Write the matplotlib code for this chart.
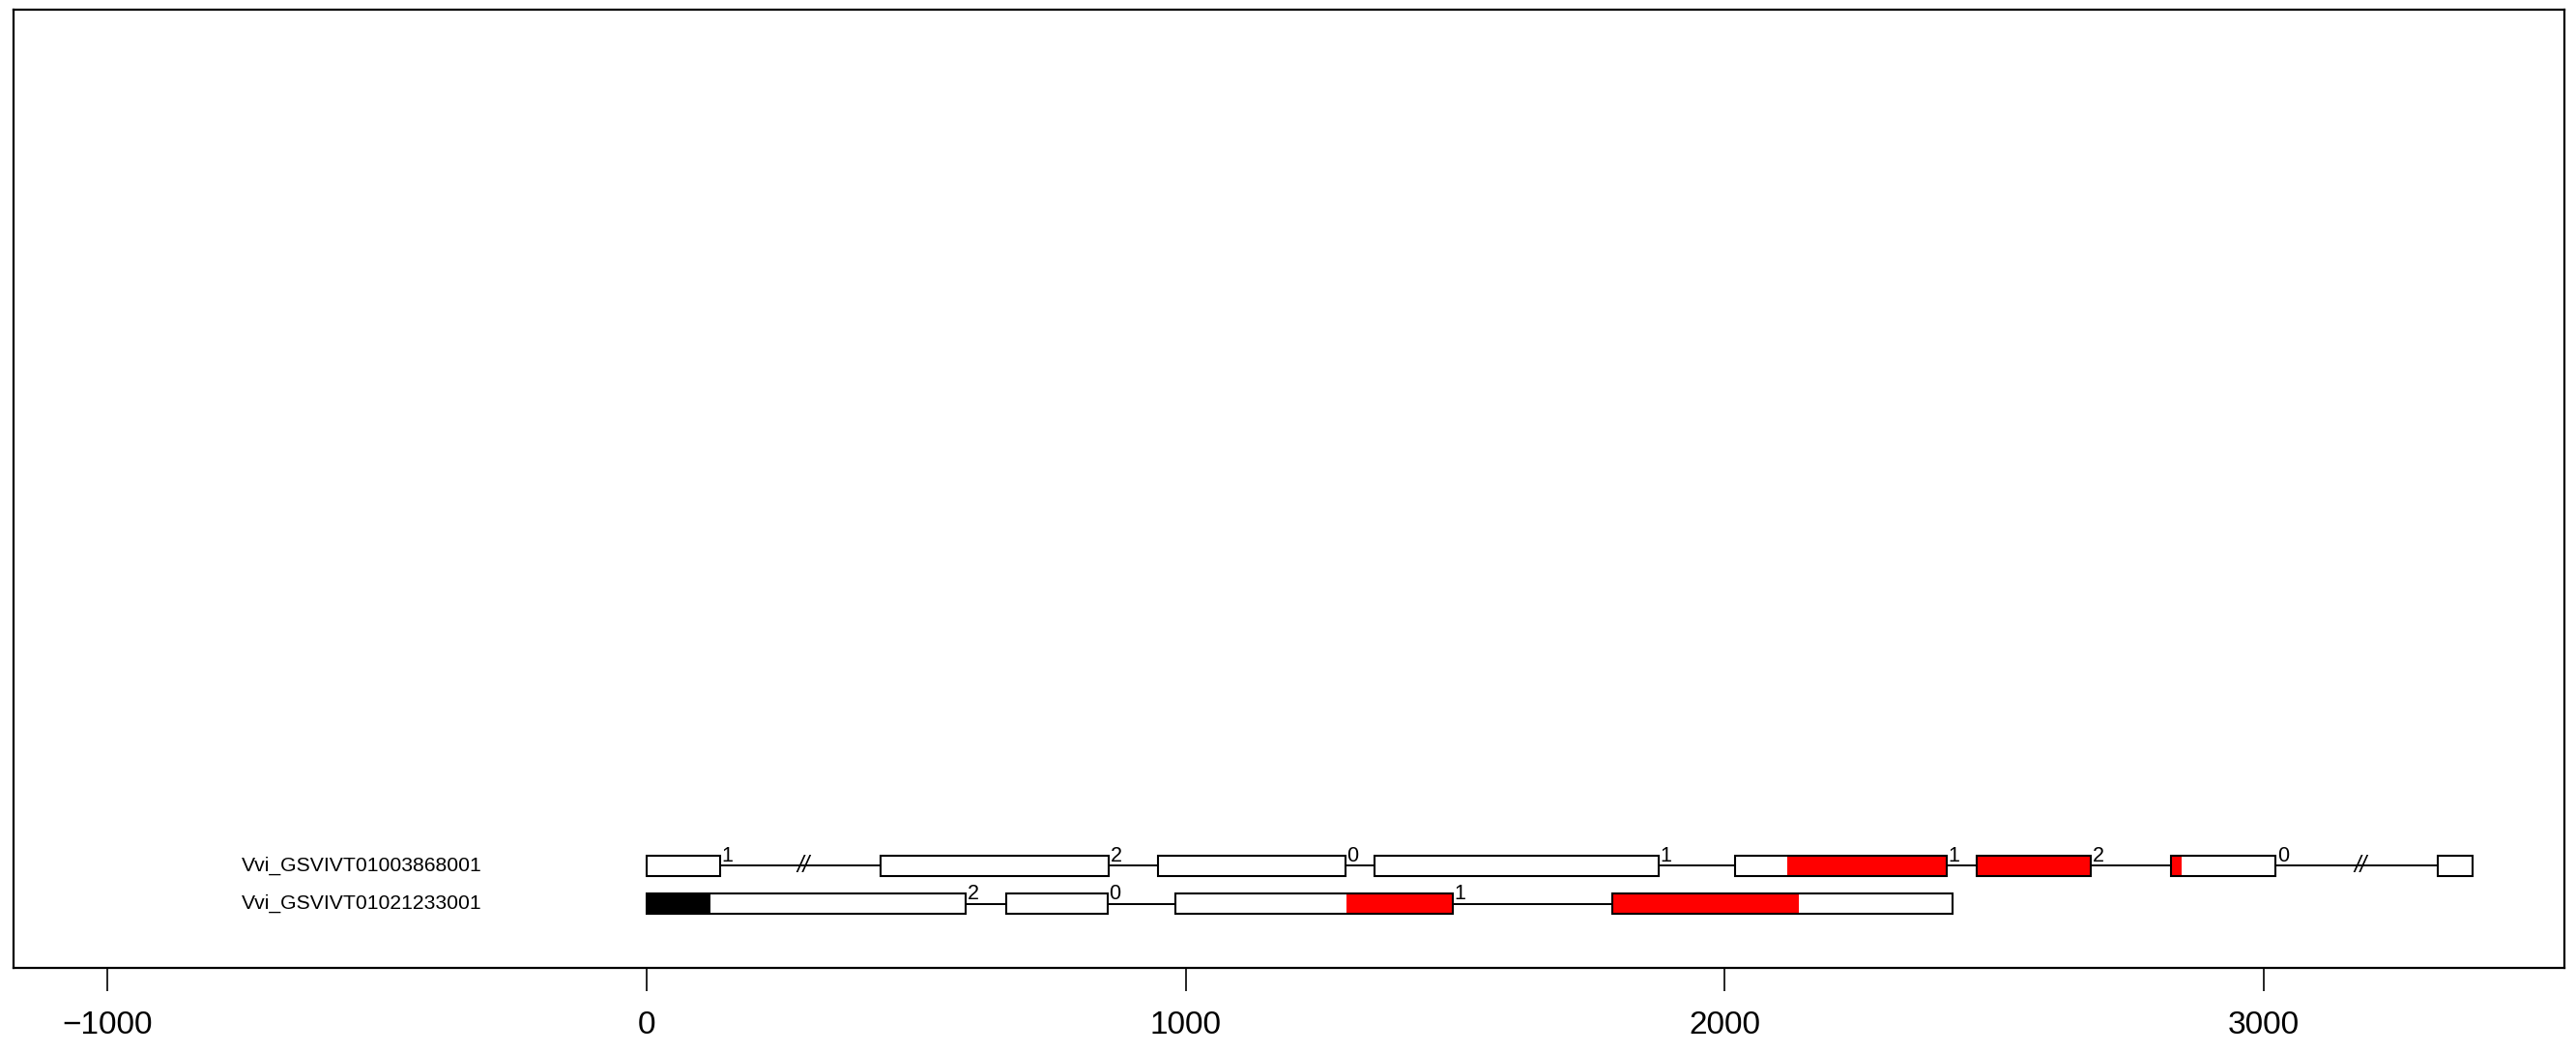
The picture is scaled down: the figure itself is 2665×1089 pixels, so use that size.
import matplotlib
matplotlib.use("Agg")
import matplotlib.pyplot as plt

plt.rcParams['font.family'] = ['Liberation Sans', 'DejaVu Sans']

# gene names, top row first
gene_names = ["Vvi_GSVIVT01003868001", "Vvi_GSVIVT01021233001"]

# exons of the first gene (start, end)
gene1_starts = [0, 435, 949, 1351, 2019, 2468, 2829, 3323]
gene1_ends = [136, 857, 1296, 1878, 2412, 2680, 3022, 3388]
gene1_phases = ["1", "2", "0", "1", "1", "2", "0"]
gene1_red = [(2116, 2412), (2468, 2680), (2829, 2848)]
gene1_breaks = [290, 3180]

# exons of the second gene
gene2_starts = [0, 668, 981, 1792]
gene2_ends = [592, 855, 1496, 2423]
gene2_phases = ["2", "0", "1"]
gene2_red = [(1299, 1496), (1792, 2138)]
gene2_black = [(0, 118)]

x_ticks = [-1000, 0, 1000, 2000, 3000]


def draw_gene(ax, y, starts, ends, phases, red, black, breaks):
  h = 0.52
  # introns
  ax.hlines([y] * (len(starts) - 1), ends[:-1], starts[1:], color="black", lw=1.4, zorder=1)
  # exon fills
  widths = [e - s for s, e in zip(starts, ends)]
  ax.barh([y] * len(starts), widths, left=starts, height=h, color="white", zorder=2)
  for seg, col in [(red, "#ff0000"), (black, "black")]:
    if seg:
      ax.barh([y] * len(seg), [b - a for a, b in seg], left=[a for a, b in seg],
              height=h, color=col, zorder=3)
  # outlines
  ax.barh([y] * len(starts), widths, left=starts, height=h, facecolor="none",
          edgecolor="black", lw=1.5, zorder=4)
  # phase labels at exon ends
  for e, p in zip(ends, phases):
    ax.text(e + 3, y + h / 2, p, ha="left", va="center", fontsize=15.5, zorder=5)
  # break marks on shortened introns
  for b in breaks:
    ax.text(b, y, "//", ha="center", va="center", fontsize=17, style="italic", zorder=5)


def main():
  fig = plt.figure(figsize=(26.65, 10.89), dpi=100)
  ax = fig.add_axes([0.0051, 0.0808, 0.9904, 0.91])

  rows = [2, 1]
  draw_gene(ax, rows[0], gene1_starts, gene1_ends, gene1_phases, gene1_red, [], gene1_breaks)
  draw_gene(ax, rows[1], gene2_starts, gene2_ends, gene2_phases, gene2_red, gene2_black, [])

  for name, y in zip(gene_names, rows):
    ax.text(-528, y, name, ha="center", va="center", fontsize=15.2)

  ax.set_xlim(-1175, 3558)
  ax.set_ylim(-0.7, 24.65)
  ax.set_yticks([])
  ax.set_xticks(x_ticks)
  ax.set_xticklabels([str(t).replace("-", "\u2212") for t in x_ticks])
  ax.tick_params(axis="x", length=17, width=1.2, pad=15, labelsize=24)
  for sp in ax.spines.values():
    sp.set_linewidth(1.6)

  fig.savefig("out.png", dpi=100)


if __name__ == "__main__":
  main()
